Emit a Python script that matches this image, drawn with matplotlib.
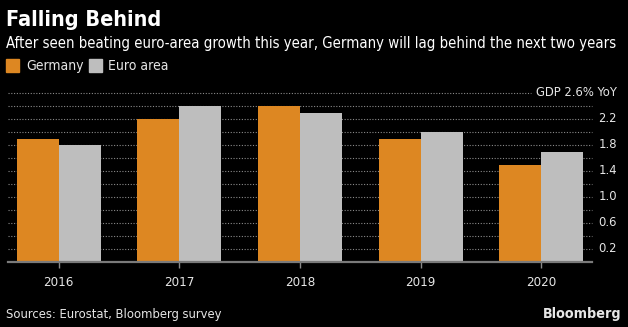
import matplotlib
matplotlib.use("Agg")
import matplotlib.pyplot as plt
import numpy as np

years = ["2016", "2017", "2018", "2019", "2020"]
germany = [1.9, 2.2, 2.4, 1.9, 1.5]
euro_area = [1.8, 2.4, 2.3, 2.0, 1.7]
grid_vals = [0.2, 0.4, 0.6, 0.8, 1.0, 1.2, 1.4, 1.6, 1.8, 2.0, 2.2, 2.4, 2.6]
label_vals = [0.2, 0.6, 1.0, 1.4, 1.8, 2.2]

plt.rcParams["font.family"] = ["DejaVu Sans"]
plt.rcParams["font.stretch"] = "condensed"

ORANGE = "#DD8722"
GRAY = "#BEBEBE"
TXT = "#e6e6e6"
W, H = 628, 327
fig = plt.figure(figsize=(W/100, H/100), dpi=100, facecolor="black")

def fx(px): return px / W
def fy(py): return 1 - py / H

ax = fig.add_axes([fx(8), fy(262), fx(592) - fx(8), (262 - 93) / H])
ax.set_facecolor("black")
x = np.arange(len(years))
bw = 0.347
ax.bar(x - bw/2, germany, bw, color=ORANGE, zorder=3)
ax.bar(x + bw/2, euro_area, bw, color=GRAY, zorder=3)
ax.set_xlim(-0.42, 4.42)
ax.set_ylim(0, 2.6)
for v in grid_vals:
    xe = 0.895 if v == 2.6 else 1.0
    ax.plot([0, xe], [v, v], transform=ax.get_yaxis_transform(), color="#8a8a8a",
            lw=0.8, ls=(0, (1, 1.5)), zorder=1, clip_on=False)
for s in ["top", "right", "left"]:
    ax.spines[s].set_visible(False)
ax.spines["bottom"].set_color("#7a7a7a")
ax.spines["bottom"].set_linewidth(1.6)
ax.spines["bottom"].set_zorder(4)
ax.set_xticks(x)
ax.set_xticklabels(years, fontsize=9.5)
ax.tick_params(axis="x", colors="#8a8a8a", length=4, width=1, pad=6, labelcolor=TXT)
ax.set_yticks([])
for v in label_vals:
    ax.text(1.043, v, f"{v:.1f}", transform=ax.get_yaxis_transform(), ha="right", va="center",
            color=TXT, fontsize=9.3)
ax.text(1.043, 2.6, "GDP 2.6% YoY", transform=ax.get_yaxis_transform(), ha="right", va="center",
        color=TXT, fontsize=9.3)

fig.text(fx(6), fy(26), "Falling Behind", color="white", fontsize=15.5, fontweight="bold",
         ha="left", va="baseline")
fig.text(fx(6), fy(48), "After seen beating euro-area growth this year, Germany will lag behind the next two years",
         color="white", fontsize=10.7, ha="left", va="baseline")
fig.patches.append(plt.Rectangle((fx(6), fy(72)), fx(13), 13/H, transform=fig.transFigure, color=ORANGE))
fig.text(fx(26), fy(70), "Germany", color=TXT, fontsize=10, ha="left", va="baseline")
fig.patches.append(plt.Rectangle((fx(89), fy(72)), fx(13), 13/H, transform=fig.transFigure, color=GRAY))
fig.text(fx(108), fy(70), "Euro area", color=TXT, fontsize=10, ha="left", va="baseline")
fig.text(fx(6), fy(318), "Sources: Eurostat, Bloomberg survey", color=TXT, fontsize=9.3,
         ha="left", va="baseline")
fig.text(fx(622), fy(318), "Bloomberg", color=TXT, fontsize=10.3, fontweight="bold",
         ha="right", va="baseline")

fig.savefig("out.png", dpi=100, facecolor="black")
